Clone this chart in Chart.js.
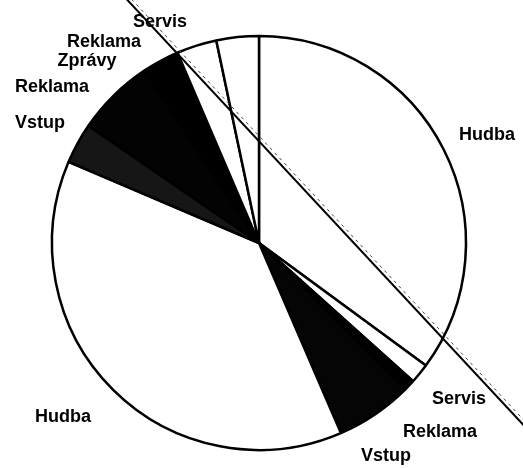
<!DOCTYPE html>
<html>
<head>
<meta charset="utf-8">
<script src="https://cdn.jsdelivr.net/npm/chart.js@4/dist/chart.umd.min.js"></script>
<style>
  html, body { margin: 0; padding: 0; background: #fff; }
  canvas { display: block; }
</style>
</head>
<body>
<canvas id="pie-chart" width="523" height="468"></canvas>
<script>
const categories = ["Hudba", "Servis", "Reklama", "Vstup", "Hudba", "Vstup", "Reklama", "Zprávy", "Reklama", "Servis"];
const shares = [126.3, 5.6, 3.0, 21.8, 136.4, 11.4, 22.0, 10.3, 11.3, 11.9];
const fills = ["#ffffff", "#ffffff", "#000000", "#050505", "#ffffff", "#161616", "#030303", "#000000", "#ffffff", "#ffffff"];

// label anchors, offset from the pie centre (text baseline, centred)
const labelOffsets = [
	[228, -103], [200, 161], [181, 194], [127, 218], [-196, 179],
	[-219, -115], [-207, -151], [-172, -177], [-155, -196], [-99, -216]
];

const diagonalLine = {
	id: "diagonalLine",
	afterDraw(chart) {
		const arc = chart.getDatasetMeta(0).data[0];
		const ctx = chart.ctx;
		const cx = arc.x, cy = arc.y;
		// pen line across the scan
		const x1 = cx - 140, y1 = cy - 252, x2 = cx + 272, y2 = cy + 190;
		ctx.save();
		ctx.strokeStyle = "#000";
		ctx.lineWidth = 2;
		ctx.beginPath();
		ctx.moveTo(x1, y1);
		ctx.lineTo(x2, y2);
		ctx.stroke();
		ctx.strokeStyle = "#444";
		ctx.lineWidth = 1;
		ctx.setLineDash([3, 4]);
		ctx.beginPath();
		ctx.moveTo(x1 + 3, y1 - 2);
		ctx.lineTo(x2 + 3, y2 - 2);
		ctx.stroke();
		ctx.restore();
	}
};

const sliceLabels = {
	id: "sliceLabels",
	afterDraw(chart) {
		const arc = chart.getDatasetMeta(0).data[0];
		const ctx = chart.ctx;
		ctx.save();
		ctx.fillStyle = "#000";
		ctx.font = "bold 18px 'Liberation Sans', Arial, sans-serif";
		ctx.textAlign = "center";
		ctx.textBaseline = "alphabetic";
		categories.forEach((name, i) => {
			ctx.fillText(name, arc.x + labelOffsets[i][0], arc.y + labelOffsets[i][1]);
		});
		ctx.restore();
	}
};

(() => {
	const pieCtx = document.getElementById("pie-chart").getContext("2d");
	new Chart(pieCtx, {
		type: "pie",
		data: {
			labels: categories,
			datasets: [{
				data: shares,
				backgroundColor: fills,
				borderColor: "#000",
				borderWidth: 2.5,
				radius: 207
			}]
		},
		options: {
			responsive: false,
			animation: false,
			devicePixelRatio: 1,
			rotation: 0,
			layout: { padding: { left: 52, top: 36, right: 57, bottom: 18 } },
			plugins: {
				legend: { display: false },
				tooltip: { enabled: false }
			}
		},
		plugins: [sliceLabels, diagonalLine]
	});
})();
</script>
</body>
</html>
